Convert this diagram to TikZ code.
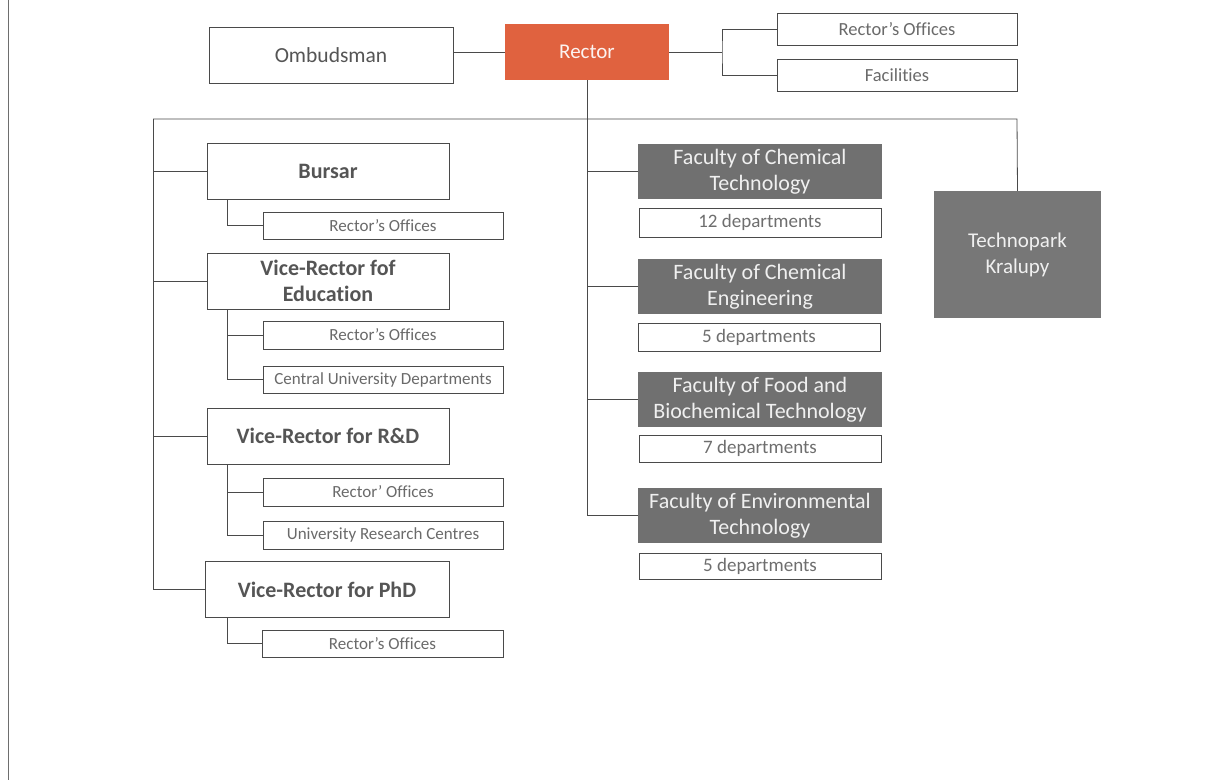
\documentclass[tikz,border=0pt]{standalone}
\usepackage{fontspec}
\setmainfont{Carlito}[Ligatures={NoCommon}]
\definecolor{rectorc}{HTML}{E0623F}
\definecolor{facc}{HTML}{707070}
\definecolor{linec}{HTML}{4A4A4A}
\definecolor{txtc}{HTML}{555555}
\definecolor{smtxt}{HTML}{6A6A6A}
\begin{document}
\begin{tikzpicture}[x=1pt,y=-1pt,
  box/.style={draw=linec,line width=0.8pt,fill=white,rectangle,inner sep=0pt,align=center,text=txtc},
  bigbox/.style={box,minimum width=242,minimum height=56,font=\fontsize{22}{26}\selectfont\bfseries},
  subbox/.style={box,minimum width=240,minimum height=27,text=smtxt,font=\fontsize{17}{20}\selectfont},
  topbox/.style={box,minimum width=240,minimum height=32,text=smtxt,font=\fontsize{18.5}{22}\selectfont},
  facbox/.style={rectangle,fill=facc,inner sep=0pt,align=center,text=white!94!black,minimum width=244,minimum height=55,font=\fontsize{22}{26}\selectfont},
  depbox/.style={box,minimum width=242,minimum height=28,text=txtc!85!white,font=\fontsize{19}{22}\selectfont},
  conn/.style={draw=linec,line width=0.8pt}]
\useasboundingbox (0,0) rectangle (1213,780);
\fill[white] (0,0) rectangle (1213,780);
% page edge
\draw[line width=1pt,draw=linec!80!white] (8,0) -- (8,780);

% top row
\node[box,minimum width=244,minimum height=56,font=\fontsize{21.5}{26}\selectfont] (omb) at (331,55) {Ombudsman};
\node[rectangle,fill=rectorc,inner sep=0pt,minimum width=164,minimum height=56,text=white!92!rectorc,font=\fontsize{21}{26}\selectfont] (rector) at (587,52) {Rector};
\node[topbox] (ro1) at (897,29) {Rector’s Offices};
\node[topbox] (facil) at (897,75) {Facilities};

% left column
\node[bigbox] (bursar) at (328,171.5) {Bursar};
\node[subbox] (bro) at (383,225.5) {Rector’s Offices};
\node[bigbox] (vre) at (328,281) {Vice-Rector fof\\Education};
\node[subbox,minimum height=28] (vro) at (383,335) {Rector’s Offices};
\node[subbox] (cud) at (383,379.5) {Central University Departments};
\node[bigbox] (vrd) at (328,436) {Vice-Rector for R\&D};
\node[subbox,minimum height=28] (rdo) at (383,492) {Rector’ Offices};
\node[subbox,minimum height=28] (urc) at (383,535) {University Research Centres};
\node[bigbox,minimum width=244] (phd) at (327,589.5) {Vice-Rector for PhD};
\node[subbox,minimum width=241] (pro) at (382.5,643.5) {Rector’s Offices};

% faculties
\node[facbox] (fct) at (760,171.5) {Faculty of Chemical\\Technology};
\node[depbox,minimum height=29] (d12) at (760,222.5) {12 departments};
\node[facbox] (fce) at (760,286.5) {Faculty of Chemical\\Engineering};
\node[depbox] (d5a) at (759,337) {5 departments};
\node[facbox] (ffb) at (760,399.5) {Faculty of Food and\\Biochemical Technology};
\node[depbox,minimum height=27] (d7) at (760,448.5) {7 departments};
\node[facbox] (fet) at (760,515.5) {Faculty of Environmental\\Technology};
\node[depbox,minimum height=26] (d5b) at (760,566) {5 departments};

% technopark
\node[facbox,minimum width=167,minimum height=127,fill=facc!95!white,font=\fontsize{21}{26}\selectfont] (tech) at (1017.5,254.5) {Technopark\\Kralupy};

% junction coordinates
\coordinate (jr) at (722,52);
\coordinate (busL) at (153,119);
\coordinate (busR) at (1017,119);

% connectors, top
\draw[conn] (rector.west) -- (rector.west -| omb.east);
\draw[conn] (rector.east) -- (jr);
\draw[conn] (ro1.west) -| (jr) |- (facil.west);

% rector trunk
\draw[conn] (rector.south) |- (fet.west);
\draw[conn] (rector.south |- fct.west) -- (fct.west);
\draw[conn] (rector.south |- fce.west) -- (fce.west);
\draw[conn] (rector.south |- ffb.west) -- (ffb.west);

% bus
\draw[conn] (busL) -- (busR) -- (tech.north);
\draw[conn] (busL) |- (phd.west);
\draw[conn] (busL |- bursar.west) -- (bursar.west);
\draw[conn] (busL |- vre.west) -- (vre.west);
\draw[conn] (busL |- vrd.west) -- (vrd.west);

% sub connectors
\draw[conn] ([xshift=21pt]bursar.south west) |- (bro.west);
\draw[conn] ([xshift=21pt]vre.south west) |- (cud.west);
\draw[conn] ([xshift=21pt]vre.south west |- vro.west) -- (vro.west);
\draw[conn] ([xshift=21pt]vrd.south west) |- (urc.west);
\draw[conn] ([xshift=21pt]vrd.south west |- rdo.west) -- (rdo.west);
\draw[conn] ([xshift=23pt]phd.south west) |- (pro.west);
\end{tikzpicture}
\end{document}
